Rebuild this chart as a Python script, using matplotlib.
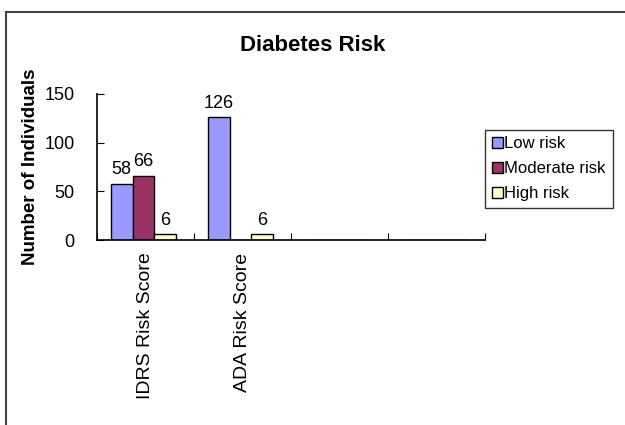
import matplotlib
matplotlib.use('Agg')
import matplotlib.pyplot as plt
import matplotlib.patches as mpatches
import numpy as np

plt.rcParams['font.family'] = ['Liberation Sans', 'DejaVu Sans']

# risk counts per scoring method
categories = ['IDRS Risk Score', 'ADA Risk Score', '', '']
series = ['Low risk', 'Moderate risk', 'High risk']
low_risk = [58, 126, 0, 0]
moderate_risk = [66, 0, 0, 0]
high_risk = [6, 6, 0, 0]
colors = ['#9999FF', '#993366', '#FFFFCC']

fig = plt.figure(figsize=(6.25, 4.25), dpi=100)
ax = fig.add_axes([0.155, 0.435, 0.621, 0.344])

x = np.arange(len(categories))
w = 0.225
for i, (name, vals, c) in enumerate(zip(series, [low_risk, moderate_risk, high_risk], colors)):
    bars = ax.bar(x + (i - 1) * w - 0.02, vals, w, color=c, edgecolor='black',
                  linewidth=1.0, label=name)
    ax.bar_label(bars, labels=[str(v) if v > 0 else '' for v in vals],
                 padding=4, fontsize=13)

ax.set_xlim(-0.5, len(categories) - 0.5)
ax.set_ylim(0, 150)
ax.set_yticks([0, 50, 100, 150])
ax.tick_params(axis='y', direction='in', length=5, labelsize=13, pad=16)

# category boundaries get the tick marks, names sit in the middle
ax.set_xticks(np.arange(-0.5, len(categories)), labels=[])
ax.tick_params(axis='x', which='major', direction='in', length=5)
ax.set_xticks(x, minor=True)
ax.set_xticklabels(categories, minor=True, rotation=90, fontsize=14)
ax.tick_params(axis='x', which='minor', length=0, pad=9)

ax.spines['top'].set_visible(False)
ax.spines['right'].set_visible(False)
for s in ['left', 'bottom']:
    ax.spines[s].set_linewidth(1.2)

ax.set_ylabel('Number of Individuals', fontsize=13.5, fontweight='bold')
ax.yaxis.set_label_coords(-0.15, 0.5)

fig.text(0.5, 0.894, 'Diabetes Risk', ha='center', va='center',
         fontsize=16, fontweight='bold')

leg = ax.legend(loc='upper left', bbox_to_anchor=(0.776, 0.695),
                bbox_transform=fig.transFigure, fontsize=12, frameon=True,
                fancybox=False, edgecolor='black', handlelength=0.65,
                handleheight=0.65, handletextpad=0.12, labelspacing=0.6,
                borderpad=0.4, borderaxespad=0)
leg.get_frame().set_linewidth(1.0)

# outer chart frame
fig.patches.append(mpatches.Rectangle((6 / 625, -0.1), 1.2, 1 - 12 / 425 + 0.1,
                                      transform=fig.transFigure, fill=False,
                                      edgecolor='#444444', linewidth=1.5))

fig.savefig('out.png', dpi=100)
